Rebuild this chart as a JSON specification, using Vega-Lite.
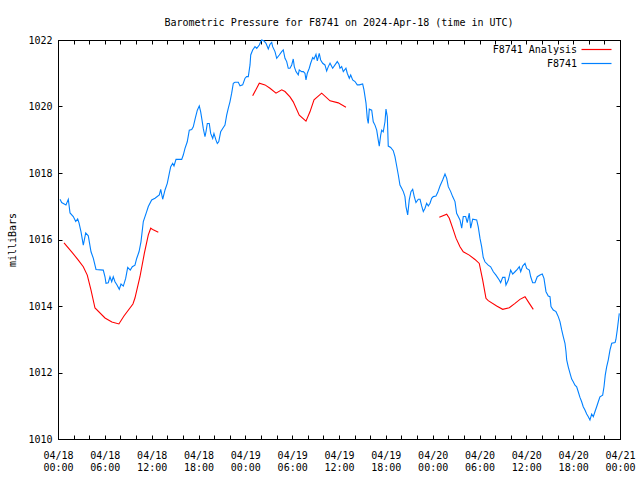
{
  "$schema": "https://vega.github.io/schema/vega-lite/v6.json",
  "width": 562,
  "height": 399,
  "autosize": {"type": "none"},
  "padding": {"left": 58, "top": 40, "right": 20, "bottom": 41},
  "background": "white",
  "title": {"text": "Barometric Pressure for F8741 on 2024-Apr-18 (time in UTC)", "font": "DejaVu Sans Mono", "fontSize": 10, "fontWeight": "normal", "color": "black", "anchor": "middle", "offset": 7},
  "config": {
    "view": {"stroke": "black", "strokeWidth": 1},
    "axis": {"labelFont": "DejaVu Sans Mono", "labelFontSize": 10, "labelColor": "black", "titleFont": "DejaVu Sans Mono", "titleFontSize": 10, "titleFontWeight": "normal", "titleColor": "black", "grid": false, "domainColor": "black", "tickColor": "black", "tickSize": -4, "tickWidth": 1, "domain": true}
  },
  "data": {"values": [
    {"series":"F8741","seg":"b","hour":0.26,"mb":1017.21},{"series":"F8741","seg":"b","hour":0.47,"mb":1017.11},{"series":"F8741","seg":"b","hour":1.02,"mb":1017.04},{"series":"F8741","seg":"b","hour":1.32,"mb":1017.21},{"series":"F8741","seg":"b","hour":1.54,"mb":1016.80},{"series":"F8741","seg":"b","hour":1.96,"mb":1016.69},{"series":"F8741","seg":"b","hour":2.27,"mb":1016.54},{"series":"F8741","seg":"b","hour":2.52,"mb":1016.62},{"series":"F8741","seg":"b","hour":2.69,"mb":1016.50},{"series":"F8741","seg":"b","hour":2.95,"mb":1016.23},{"series":"F8741","seg":"b","hour":3.24,"mb":1015.83},{"series":"F8741","seg":"b","hour":3.55,"mb":1016.20},{"series":"F8741","seg":"b","hour":3.88,"mb":1016.11},{"series":"F8741","seg":"b","hour":4.23,"mb":1015.63},{"series":"F8741","seg":"b","hour":4.52,"mb":1015.44},{"series":"F8741","seg":"b","hour":4.87,"mb":1015.10},{"series":"F8741","seg":"b","hour":5.8,"mb":1015.08},{"series":"F8741","seg":"b","hour":6.02,"mb":1014.88},{"series":"F8741","seg":"b","hour":6.15,"mb":1014.68},{"series":"F8741","seg":"b","hour":6.44,"mb":1014.70},{"series":"F8741","seg":"b","hour":6.66,"mb":1014.88},{"series":"F8741","seg":"b","hour":6.88,"mb":1014.73},{"series":"F8741","seg":"b","hour":7.08,"mb":1014.88},{"series":"F8741","seg":"b","hour":7.3,"mb":1014.73},{"series":"F8741","seg":"b","hour":7.56,"mb":1014.63},{"series":"F8741","seg":"b","hour":7.85,"mb":1014.50},{"series":"F8741","seg":"b","hour":8.07,"mb":1014.66},{"series":"F8741","seg":"b","hour":8.37,"mb":1014.60},{"series":"F8741","seg":"b","hour":8.67,"mb":1014.83},{"series":"F8741","seg":"b","hour":8.93,"mb":1015.16},{"series":"F8741","seg":"b","hour":9.26,"mb":1015.08},{"series":"F8741","seg":"b","hour":9.52,"mb":1015.18},{"series":"F8741","seg":"b","hour":9.86,"mb":1015.23},{"series":"F8741","seg":"b","hour":10.08,"mb":1015.43},{"series":"F8741","seg":"b","hour":10.38,"mb":1015.63},{"series":"F8741","seg":"b","hour":10.63,"mb":1015.93},{"series":"F8741","seg":"b","hour":10.93,"mb":1016.54},{"series":"F8741","seg":"b","hour":11.36,"mb":1016.84},{"series":"F8741","seg":"b","hour":11.57,"mb":1016.99},{"series":"F8741","seg":"b","hour":12.0,"mb":1017.19},{"series":"F8741","seg":"b","hour":12.43,"mb":1017.24},{"series":"F8741","seg":"b","hour":12.98,"mb":1017.34},{"series":"F8741","seg":"b","hour":13.16,"mb":1017.51},{"series":"F8741","seg":"b","hour":13.41,"mb":1017.21},{"series":"F8741","seg":"b","hour":13.71,"mb":1017.49},{"series":"F8741","seg":"b","hour":14.0,"mb":1017.69},{"series":"F8741","seg":"b","hour":14.26,"mb":1017.99},{"series":"F8741","seg":"b","hour":14.44,"mb":1018.19},{"series":"F8741","seg":"b","hour":14.69,"mb":1018.29},{"series":"F8741","seg":"b","hour":14.86,"mb":1018.21},{"series":"F8741","seg":"b","hour":15.12,"mb":1018.41},{"series":"F8741","seg":"b","hour":15.85,"mb":1018.41},{"series":"F8741","seg":"b","hour":16.05,"mb":1018.54},{"series":"F8741","seg":"b","hour":16.27,"mb":1018.74},{"series":"F8741","seg":"b","hour":16.56,"mb":1018.94},{"series":"F8741","seg":"b","hour":16.82,"mb":1019.29},{"series":"F8741","seg":"b","hour":17.13,"mb":1019.31},{"series":"F8741","seg":"b","hour":17.33,"mb":1019.39},{"series":"F8741","seg":"b","hour":17.59,"mb":1019.65},{"series":"F8741","seg":"b","hour":17.85,"mb":1019.89},{"series":"F8741","seg":"b","hour":18.1,"mb":1020.02},{"series":"F8741","seg":"b","hour":18.28,"mb":1019.84},{"series":"F8741","seg":"b","hour":18.45,"mb":1019.59},{"series":"F8741","seg":"b","hour":18.61,"mb":1019.34},{"series":"F8741","seg":"b","hour":18.83,"mb":1019.09},{"series":"F8741","seg":"b","hour":18.96,"mb":1019.24},{"series":"F8741","seg":"b","hour":19.13,"mb":1019.49},{"series":"F8741","seg":"b","hour":19.38,"mb":1019.49},{"series":"F8741","seg":"b","hour":19.56,"mb":1019.19},{"series":"F8741","seg":"b","hour":19.82,"mb":1019.04},{"series":"F8741","seg":"b","hour":19.98,"mb":1019.19},{"series":"F8741","seg":"b","hour":20.24,"mb":1018.99},{"series":"F8741","seg":"b","hour":20.41,"mb":1018.89},{"series":"F8741","seg":"b","hour":20.59,"mb":1018.94},{"series":"F8741","seg":"b","hour":20.84,"mb":1019.24},{"series":"F8741","seg":"b","hour":21.1,"mb":1019.34},{"series":"F8741","seg":"b","hour":21.39,"mb":1019.44},{"series":"F8741","seg":"b","hour":21.61,"mb":1019.74},{"series":"F8741","seg":"b","hour":21.82,"mb":1019.95},{"series":"F8741","seg":"b","hour":22.03,"mb":1020.14},{"series":"F8741","seg":"b","hour":22.25,"mb":1020.40},{"series":"F8741","seg":"b","hour":22.46,"mb":1020.70},{"series":"F8741","seg":"b","hour":22.67,"mb":1020.73},{"series":"F8741","seg":"b","hour":23.1,"mb":1020.73},{"series":"F8741","seg":"b","hour":23.32,"mb":1020.62},{"series":"F8741","seg":"b","hour":23.66,"mb":1020.65},{"series":"F8741","seg":"b","hour":23.96,"mb":1020.85},{"series":"F8741","seg":"b","hour":24.17,"mb":1020.90},{"series":"F8741","seg":"b","hour":24.38,"mb":1020.90},{"series":"F8741","seg":"b","hour":24.6,"mb":1021.25},{"series":"F8741","seg":"b","hour":24.69,"mb":1021.55},{"series":"F8741","seg":"b","hour":24.94,"mb":1021.70},{"series":"F8741","seg":"b","hour":25.24,"mb":1021.80},{"series":"F8741","seg":"b","hour":25.46,"mb":1021.75},{"series":"F8741","seg":"b","hour":25.79,"mb":1021.85},{"series":"F8741","seg":"b","hour":25.88,"mb":1021.90},{"series":"F8741","seg":"b","hour":26.1,"mb":1022.0},{"series":"F8741","seg":"b","hour":26.39,"mb":1021.97},{"series":"F8741","seg":"b","hour":26.65,"mb":1021.90},{"series":"F8741","seg":"b","hour":26.94,"mb":1021.73},{"series":"F8741","seg":"b","hour":27.16,"mb":1021.87},{"series":"F8741","seg":"b","hour":27.38,"mb":1021.93},{"series":"F8741","seg":"b","hour":27.5,"mb":1021.80},{"series":"F8741","seg":"b","hour":27.8,"mb":1021.65},{"series":"F8741","seg":"b","hour":28.02,"mb":1021.45},{"series":"F8741","seg":"b","hour":28.35,"mb":1021.55},{"series":"F8741","seg":"b","hour":28.66,"mb":1021.65},{"series":"F8741","seg":"b","hour":28.86,"mb":1021.70},{"series":"F8741","seg":"b","hour":29.08,"mb":1021.45},{"series":"F8741","seg":"b","hour":29.3,"mb":1021.35},{"series":"F8741","seg":"b","hour":29.5,"mb":1021.15},{"series":"F8741","seg":"b","hour":29.72,"mb":1021.15},{"series":"F8741","seg":"b","hour":29.94,"mb":1021.25},{"series":"F8741","seg":"b","hour":30.14,"mb":1021.43},{"series":"F8741","seg":"b","hour":30.27,"mb":1021.20},{"series":"F8741","seg":"b","hour":30.49,"mb":1021.05},{"series":"F8741","seg":"b","hour":30.78,"mb":1020.95},{"series":"F8741","seg":"b","hour":30.91,"mb":1021.10},{"series":"F8741","seg":"b","hour":31.22,"mb":1021.05},{"series":"F8741","seg":"b","hour":31.43,"mb":1021.05},{"series":"F8741","seg":"b","hour":31.64,"mb":1021.00},{"series":"F8741","seg":"b","hour":31.77,"mb":1020.80},{"series":"F8741","seg":"b","hour":31.94,"mb":1021.00},{"series":"F8741","seg":"b","hour":32.19,"mb":1021.15},{"series":"F8741","seg":"b","hour":32.37,"mb":1021.30},{"series":"F8741","seg":"b","hour":32.63,"mb":1021.47},{"series":"F8741","seg":"b","hour":32.8,"mb":1021.43},{"series":"F8741","seg":"b","hour":33.05,"mb":1021.57},{"series":"F8741","seg":"b","hour":33.22,"mb":1021.37},{"series":"F8741","seg":"b","hour":33.47,"mb":1021.60},{"series":"F8741","seg":"b","hour":33.65,"mb":1021.40},{"series":"F8741","seg":"b","hour":33.91,"mb":1021.30},{"series":"F8741","seg":"b","hour":34.2,"mb":1021.25},{"series":"F8741","seg":"b","hour":34.42,"mb":1021.07},{"series":"F8741","seg":"b","hour":34.63,"mb":1021.20},{"series":"F8741","seg":"b","hour":34.85,"mb":1021.30},{"series":"F8741","seg":"b","hour":35.19,"mb":1021.15},{"series":"F8741","seg":"b","hour":35.49,"mb":1021.25},{"series":"F8741","seg":"b","hour":35.78,"mb":1021.35},{"series":"F8741","seg":"b","hour":36.0,"mb":1021.27},{"series":"F8741","seg":"b","hour":36.13,"mb":1021.15},{"series":"F8741","seg":"b","hour":36.34,"mb":1021.20},{"series":"F8741","seg":"b","hour":36.55,"mb":1021.05},{"series":"F8741","seg":"b","hour":36.89,"mb":1021.15},{"series":"F8741","seg":"b","hour":37.06,"mb":1021.00},{"series":"F8741","seg":"b","hour":37.32,"mb":1020.85},{"series":"F8741","seg":"b","hour":37.5,"mb":1020.95},{"series":"F8741","seg":"b","hour":37.75,"mb":1020.80},{"series":"F8741","seg":"b","hour":38.05,"mb":1020.75},{"series":"F8741","seg":"b","hour":38.34,"mb":1020.65},{"series":"F8741","seg":"b","hour":38.6,"mb":1020.65},{"series":"F8741","seg":"b","hour":39.03,"mb":1020.68},{"series":"F8741","seg":"b","hour":39.2,"mb":1020.50},{"series":"F8741","seg":"b","hour":39.46,"mb":1020.10},{"series":"F8741","seg":"b","hour":39.62,"mb":1019.65},{"series":"F8741","seg":"b","hour":39.75,"mb":1019.49},{"series":"F8741","seg":"b","hour":39.88,"mb":1019.92},{"series":"F8741","seg":"b","hour":40.19,"mb":1019.89},{"series":"F8741","seg":"b","hour":40.39,"mb":1019.54},{"series":"F8741","seg":"b","hour":40.61,"mb":1019.44},{"series":"F8741","seg":"b","hour":40.83,"mb":1019.29},{"series":"F8741","seg":"b","hour":41.03,"mb":1018.99},{"series":"F8741","seg":"b","hour":41.16,"mb":1018.81},{"series":"F8741","seg":"b","hour":41.34,"mb":1019.14},{"series":"F8741","seg":"b","hour":41.47,"mb":1019.29},{"series":"F8741","seg":"b","hour":41.67,"mb":1019.24},{"series":"F8741","seg":"b","hour":41.89,"mb":1019.54},{"series":"F8741","seg":"b","hour":42.02,"mb":1019.92},{"series":"F8741","seg":"b","hour":42.19,"mb":1019.69},{"series":"F8741","seg":"b","hour":42.31,"mb":1018.81},{"series":"F8741","seg":"b","hour":42.62,"mb":1018.77},{"series":"F8741","seg":"b","hour":42.95,"mb":1018.67},{"series":"F8741","seg":"b","hour":43.17,"mb":1018.49},{"series":"F8741","seg":"b","hour":43.39,"mb":1018.21},{"series":"F8741","seg":"b","hour":43.6,"mb":1017.94},{"series":"F8741","seg":"b","hour":43.81,"mb":1017.64},{"series":"F8741","seg":"b","hour":44.03,"mb":1017.54},{"series":"F8741","seg":"b","hour":44.24,"mb":1017.44},{"series":"F8741","seg":"b","hour":44.45,"mb":1017.29},{"series":"F8741","seg":"b","hour":44.58,"mb":1016.99},{"series":"F8741","seg":"b","hour":44.8,"mb":1016.74},{"series":"F8741","seg":"b","hour":45.0,"mb":1017.19},{"series":"F8741","seg":"b","hour":45.22,"mb":1017.44},{"series":"F8741","seg":"b","hour":45.44,"mb":1017.51},{"series":"F8741","seg":"b","hour":45.64,"mb":1017.29},{"series":"F8741","seg":"b","hour":45.86,"mb":1017.11},{"series":"F8741","seg":"b","hour":46.16,"mb":1017.21},{"series":"F8741","seg":"b","hour":46.38,"mb":1017.21},{"series":"F8741","seg":"b","hour":46.59,"mb":1017.01},{"series":"F8741","seg":"b","hour":46.8,"mb":1016.84},{"series":"F8741","seg":"b","hour":47.02,"mb":1016.94},{"series":"F8741","seg":"b","hour":47.23,"mb":1017.09},{"series":"F8741","seg":"b","hour":47.44,"mb":1017.01},{"series":"F8741","seg":"b","hour":47.66,"mb":1017.09},{"series":"F8741","seg":"b","hour":47.87,"mb":1017.24},{"series":"F8741","seg":"b","hour":48.08,"mb":1017.29},{"series":"F8741","seg":"b","hour":48.42,"mb":1017.31},{"series":"F8741","seg":"b","hour":48.64,"mb":1017.41},{"series":"F8741","seg":"b","hour":48.94,"mb":1017.61},{"series":"F8741","seg":"b","hour":49.28,"mb":1017.79},{"series":"F8741","seg":"b","hour":49.58,"mb":1017.97},{"series":"F8741","seg":"b","hour":49.8,"mb":1017.84},{"series":"F8741","seg":"b","hour":50.0,"mb":1017.59},{"series":"F8741","seg":"b","hour":50.31,"mb":1017.44},{"series":"F8741","seg":"b","hour":50.56,"mb":1017.29},{"series":"F8741","seg":"b","hour":50.86,"mb":1017.14},{"series":"F8741","seg":"b","hour":51.07,"mb":1016.79},{"series":"F8741","seg":"b","hour":51.28,"mb":1016.69},{"series":"F8741","seg":"b","hour":51.5,"mb":1016.59},{"series":"F8741","seg":"b","hour":51.72,"mb":1016.34},{"series":"F8741","seg":"b","hour":51.92,"mb":1016.69},{"series":"F8741","seg":"b","hour":52.23,"mb":1016.69},{"series":"F8741","seg":"b","hour":52.43,"mb":1016.51},{"series":"F8741","seg":"b","hour":52.69,"mb":1016.79},{"series":"F8741","seg":"b","hour":52.87,"mb":1016.34},{"series":"F8741","seg":"b","hour":53.13,"mb":1016.61},{"series":"F8741","seg":"b","hour":53.64,"mb":1016.59},{"series":"F8741","seg":"b","hour":53.84,"mb":1016.38},{"series":"F8741","seg":"b","hour":54.06,"mb":1016.04},{"series":"F8741","seg":"b","hour":54.28,"mb":1015.78},{"series":"F8741","seg":"b","hour":54.48,"mb":1015.46},{"series":"F8741","seg":"b","hour":54.7,"mb":1015.33},{"series":"F8741","seg":"b","hour":55.12,"mb":1015.23},{"series":"F8741","seg":"b","hour":55.43,"mb":1015.18},{"series":"F8741","seg":"b","hour":55.77,"mb":1015.03},{"series":"F8741","seg":"b","hour":56.11,"mb":1014.93},{"series":"F8741","seg":"b","hour":56.53,"mb":1014.78},{"series":"F8741","seg":"b","hour":56.71,"mb":1014.70},{"series":"F8741","seg":"b","hour":56.97,"mb":1014.86},{"series":"F8741","seg":"b","hour":57.26,"mb":1014.86},{"series":"F8741","seg":"b","hour":57.39,"mb":1014.63},{"series":"F8741","seg":"b","hour":57.69,"mb":1014.78},{"series":"F8741","seg":"b","hour":57.99,"mb":1015.08},{"series":"F8741","seg":"b","hour":58.25,"mb":1014.96},{"series":"F8741","seg":"b","hour":58.55,"mb":1015.03},{"series":"F8741","seg":"b","hour":58.84,"mb":1015.10},{"series":"F8741","seg":"b","hour":59.1,"mb":1015.18},{"series":"F8741","seg":"b","hour":59.28,"mb":1015.03},{"series":"F8741","seg":"b","hour":59.53,"mb":1015.20},{"series":"F8741","seg":"b","hour":59.83,"mb":1015.28},{"series":"F8741","seg":"b","hour":60.04,"mb":1015.13},{"series":"F8741","seg":"b","hour":60.38,"mb":1015.08},{"series":"F8741","seg":"b","hour":60.56,"mb":1014.88},{"series":"F8741","seg":"b","hour":60.81,"mb":1014.70},{"series":"F8741","seg":"b","hour":61.11,"mb":1014.70},{"series":"F8741","seg":"b","hour":61.4,"mb":1014.88},{"series":"F8741","seg":"b","hour":61.75,"mb":1014.93},{"series":"F8741","seg":"b","hour":62.04,"mb":1014.96},{"series":"F8741","seg":"b","hour":62.26,"mb":1014.83},{"series":"F8741","seg":"b","hour":62.52,"mb":1014.43},{"series":"F8741","seg":"b","hour":62.81,"mb":1014.30},{"series":"F8741","seg":"b","hour":63.03,"mb":1014.28},{"series":"F8741","seg":"b","hour":63.16,"mb":1013.98},{"series":"F8741","seg":"b","hour":63.45,"mb":1013.88},{"series":"F8741","seg":"b","hour":63.8,"mb":1013.83},{"series":"F8741","seg":"b","hour":64.09,"mb":1013.68},{"series":"F8741","seg":"b","hour":64.31,"mb":1013.53},{"series":"F8741","seg":"b","hour":64.53,"mb":1013.28},{"series":"F8741","seg":"b","hour":64.73,"mb":1013.08},{"series":"F8741","seg":"b","hour":64.95,"mb":1012.88},{"series":"F8741","seg":"b","hour":65.08,"mb":1012.63},{"series":"F8741","seg":"b","hour":65.17,"mb":1012.38},{"series":"F8741","seg":"b","hour":65.37,"mb":1012.17},{"series":"F8741","seg":"b","hour":65.59,"mb":1011.98},{"series":"F8741","seg":"b","hour":65.81,"mb":1011.80},{"series":"F8741","seg":"b","hour":66.01,"mb":1011.72},{"series":"F8741","seg":"b","hour":66.23,"mb":1011.62},{"series":"F8741","seg":"b","hour":66.45,"mb":1011.57},{"series":"F8741","seg":"b","hour":66.65,"mb":1011.42},{"series":"F8741","seg":"b","hour":66.87,"mb":1011.25},{"series":"F8741","seg":"b","hour":67.09,"mb":1011.12},{"series":"F8741","seg":"b","hour":67.29,"mb":1010.97},{"series":"F8741","seg":"b","hour":67.51,"mb":1010.87},{"series":"F8741","seg":"b","hour":67.73,"mb":1010.75},{"series":"F8741","seg":"b","hour":67.94,"mb":1010.67},{"series":"F8741","seg":"b","hour":68.15,"mb":1010.57},{"series":"F8741","seg":"b","hour":68.37,"mb":1010.75},{"series":"F8741","seg":"b","hour":68.58,"mb":1010.67},{"series":"F8741","seg":"b","hour":68.79,"mb":1010.82},{"series":"F8741","seg":"b","hour":69.01,"mb":1010.97},{"series":"F8741","seg":"b","hour":69.22,"mb":1011.12},{"series":"F8741","seg":"b","hour":69.43,"mb":1011.27},{"series":"F8741","seg":"b","hour":69.78,"mb":1011.32},{"series":"F8741","seg":"b","hour":69.95,"mb":1011.57},{"series":"F8741","seg":"b","hour":70.11,"mb":1011.92},{"series":"F8741","seg":"b","hour":70.29,"mb":1012.17},{"series":"F8741","seg":"b","hour":70.5,"mb":1012.38},{"series":"F8741","seg":"b","hour":70.72,"mb":1012.68},{"series":"F8741","seg":"b","hour":70.94,"mb":1012.88},{"series":"F8741","seg":"b","hour":71.37,"mb":1012.90},{"series":"F8741","seg":"b","hour":71.48,"mb":1013.00},{"series":"F8741","seg":"b","hour":71.65,"mb":1013.28},{"series":"F8741","seg":"b","hour":71.83,"mb":1013.63},{"series":"F8741","seg":"b","hour":71.91,"mb":1013.78},
    {"series":"F8741 Analysis","seg":"a1","hour":0.77,"mb":1015.90},{"series":"F8741 Analysis","seg":"a1","hour":1.75,"mb":1015.63},{"series":"F8741 Analysis","seg":"a1","hour":2.6,"mb":1015.38},{"series":"F8741 Analysis","seg":"a1","hour":3.24,"mb":1015.18},{"series":"F8741 Analysis","seg":"a1","hour":3.75,"mb":1014.93},{"series":"F8741 Analysis","seg":"a1","hour":4.23,"mb":1014.48},{"series":"F8741 Analysis","seg":"a1","hour":4.74,"mb":1013.94},{"series":"F8741 Analysis","seg":"a1","hour":6.02,"mb":1013.64},{"series":"F8741 Analysis","seg":"a1","hour":6.9,"mb":1013.52},{"series":"F8741 Analysis","seg":"a1","hour":7.8,"mb":1013.46},{"series":"F8741 Analysis","seg":"a1","hour":8.45,"mb":1013.70},{"series":"F8741 Analysis","seg":"a1","hour":9.6,"mb":1014.06},{"series":"F8741 Analysis","seg":"a1","hour":9.86,"mb":1014.24},{"series":"F8741 Analysis","seg":"a1","hour":10.5,"mb":1014.88},{"series":"F8741 Analysis","seg":"a1","hour":11.06,"mb":1015.58},{"series":"F8741 Analysis","seg":"a1","hour":11.57,"mb":1016.14},{"series":"F8741 Analysis","seg":"a1","hour":11.88,"mb":1016.34},{"series":"F8741 Analysis","seg":"a1","hour":12.2,"mb":1016.29},{"series":"F8741 Analysis","seg":"a1","hour":12.85,"mb":1016.22},
    {"series":"F8741 Analysis","seg":"a2","hour":24.94,"mb":1020.32},{"series":"F8741 Analysis","seg":"a2","hour":25.79,"mb":1020.70},{"series":"F8741 Analysis","seg":"a2","hour":26.52,"mb":1020.65},{"series":"F8741 Analysis","seg":"a2","hour":27.16,"mb":1020.55},{"series":"F8741 Analysis","seg":"a2","hour":27.93,"mb":1020.40},{"series":"F8741 Analysis","seg":"a2","hour":28.66,"mb":1020.50},{"series":"F8741 Analysis","seg":"a2","hour":29.08,"mb":1020.45},{"series":"F8741 Analysis","seg":"a2","hour":29.72,"mb":1020.29},{"series":"F8741 Analysis","seg":"a2","hour":30.14,"mb":1020.14},{"series":"F8741 Analysis","seg":"a2","hour":30.91,"mb":1019.74},{"series":"F8741 Analysis","seg":"a2","hour":31.77,"mb":1019.56},{"series":"F8741 Analysis","seg":"a2","hour":32.28,"mb":1019.84},{"series":"F8741 Analysis","seg":"a2","hour":32.8,"mb":1020.20},{"series":"F8741 Analysis","seg":"a2","hour":33.78,"mb":1020.40},{"series":"F8741 Analysis","seg":"a2","hour":34.85,"mb":1020.17},{"series":"F8741 Analysis","seg":"a2","hour":35.91,"mb":1020.11},{"series":"F8741 Analysis","seg":"a2","hour":36.89,"mb":1019.98},
    {"series":"F8741 Analysis","seg":"a3","hour":48.85,"mb":1016.67},{"series":"F8741 Analysis","seg":"a3","hour":49.8,"mb":1016.76},{"series":"F8741 Analysis","seg":"a3","hour":50.13,"mb":1016.64},{"series":"F8741 Analysis","seg":"a3","hour":50.64,"mb":1016.29},{"series":"F8741 Analysis","seg":"a3","hour":50.99,"mb":1016.04},{"series":"F8741 Analysis","seg":"a3","hour":51.5,"mb":1015.78},{"series":"F8741 Analysis","seg":"a3","hour":51.92,"mb":1015.63},{"series":"F8741 Analysis","seg":"a3","hour":52.69,"mb":1015.53},{"series":"F8741 Analysis","seg":"a3","hour":53.42,"mb":1015.40},{"series":"F8741 Analysis","seg":"a3","hour":53.97,"mb":1015.28},{"series":"F8741 Analysis","seg":"a3","hour":54.41,"mb":1014.78},{"series":"F8741 Analysis","seg":"a3","hour":54.83,"mb":1014.23},{"series":"F8741 Analysis","seg":"a3","hour":55.12,"mb":1014.16},{"series":"F8741 Analysis","seg":"a3","hour":56.2,"mb":1014.00},{"series":"F8741 Analysis","seg":"a3","hour":56.97,"mb":1013.90},{"series":"F8741 Analysis","seg":"a3","hour":57.82,"mb":1013.95},{"series":"F8741 Analysis","seg":"a3","hour":58.55,"mb":1014.08},{"series":"F8741 Analysis","seg":"a3","hour":59.18,"mb":1014.20},{"series":"F8741 Analysis","seg":"a3","hour":59.83,"mb":1014.28},{"series":"F8741 Analysis","seg":"a3","hour":60.38,"mb":1014.08},{"series":"F8741 Analysis","seg":"a3","hour":60.89,"mb":1013.90}
  ]},
  "layer": [
    {
      "mark": {"type": "line", "strokeWidth": 1.1, "interpolate": "linear"},
      "encoding": {
        "x": {"field": "hour", "type": "quantitative", "scale": {"domain": [0, 72], "nice": false, "zero": false},
          "axis": {"orient": "bottom", "title": null, "values": [0,2,4,6,8,10,12,14,16,18,20,22,24,26,28,30,32,34,36,38,40,42,44,46,48,50,52,54,56,58,60,62,64,66,68,70,72],
            "labelExpr": "datum.value % 6 == 0 ? ['04/' + (18 + floor(datum.value / 24)), ((datum.value % 24) < 10 ? '0' : '') + (datum.value % 24) + ':00'] : ''",
            "labelFlush": false, "labelOverlap": false, "labelPadding": 15, "labelLineHeight": 12, "labelBaseline": "top"}},
        "y": {"field": "mb", "type": "quantitative", "scale": {"domain": [1010, 1022], "nice": false, "zero": false},
          "axis": {"orient": "left", "title": "milliBars", "format": "d", "values": [1010,1012,1014,1016,1018,1020,1022], "labelPadding": 10, "titlePadding": 10}},
        "color": {"field": "series", "type": "nominal",
          "scale": {"domain": ["F8741 Analysis", "F8741"], "range": ["#ff0000", "#0080ff"]},
          "legend": {"orient": "none", "legendX": 530, "legendY": 1, "title": null, "symbolType": "M-2,0H2", "symbolSize": 225, "symbolStrokeWidth": 1.2, "labelFont": "DejaVu Sans Mono", "labelFontSize": 10, "labelColor": "black", "labelAlign": "right", "labelOffset": -28, "padding": 0, "rowPadding": 0}},
        "detail": {"field": "seg", "type": "nominal"}
      }
    },
    {
      "mark": {"type": "line", "opacity": 0},
      "encoding": {
        "x": {"field": "hour", "type": "quantitative", "axis": {"orient": "top", "title": null, "labels": false, "values": [0,2,4,6,8,10,12,14,16,18,20,22,24,26,28,30,32,34,36,38,40,42,44,46,48,50,52,54,56,58,60,62,64,66,68,70,72]}},
        "y": {"field": "mb", "type": "quantitative", "axis": {"orient": "right", "title": null, "labels": false, "values": [1010,1012,1014,1016,1018,1020,1022]}},
        "detail": {"field": "seg", "type": "nominal"}
      }
    }
  ],
  "resolve": {"axis": {"x": "independent", "y": "independent"}}
}
